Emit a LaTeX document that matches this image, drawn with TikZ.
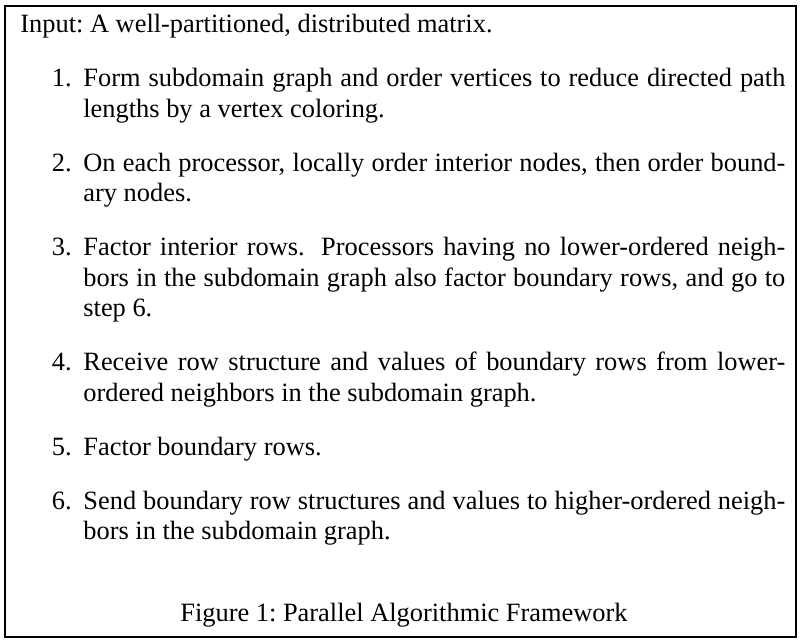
\documentclass[tikz,border=0pt]{standalone}
\usepackage{fontspec}
\setmainfont{Liberation Serif}
\tikzset{
  itemnum/.style={anchor=base east,inner sep=0pt},
  itemtext/.style={anchor=base west,inner sep=0pt,text width=351pt,align=justify},
}
\begin{document}
\begin{tikzpicture}[x=0.5pt,y=-0.5pt,font=\fontsize{13.2}{15.25}\selectfont]
  \useasboundingbox (0,0) rectangle (800,641);
  \draw[line width=1pt] (5,6) rectangle (796,637);
  \node[anchor=base west,inner sep=0pt] (input) at (20,33) {Input:\ A well-partitioned, distributed matrix.};
  % steps
  \node[itemnum] (n1) at (72,87) {1.};
  \node[itemtext] (s1) at (83,87) {Form subdomain graph and order vertices to reduce directed path\linebreak lengths by a vertex coloring.};
  \node[itemnum] (n2) at (72,171.5) {2.};
  \node[itemtext] (s2) at (83,171.5) {On each processor, locally order interior nodes, then order bound-\linebreak ary nodes.};
  \node[itemnum] (n3) at (72,256) {3.};
  \node[itemtext] (s3) at (83,256) {Factor interior rows. Processors having no lower-ordered neigh-\linebreak bors in the subdomain graph also factor boundary rows, and go to\linebreak step 6.};
  \node[itemnum] (n4) at (72,371) {4.};
  \node[itemtext] (s4) at (83,371) {Receive row structure and values of boundary rows from lower-\linebreak ordered neighbors in the subdomain graph.};
  \node[itemnum] (n5) at (72,455.5) {5.};
  \node[itemtext] (s5) at (83,455.5) {Factor boundary rows.};
  \node[itemnum] (n6) at (72,509.5) {6.};
  \node[itemtext] (s6) at (83,509.5) {Send boundary row structures and values to higher-ordered neigh-\linebreak bors in the subdomain graph.};
  % caption
  \node[anchor=base,inner sep=0pt] (caption) at (404,622) {Figure 1:\ Parallel Algorithmic Framework};
\end{tikzpicture}
\end{document}
